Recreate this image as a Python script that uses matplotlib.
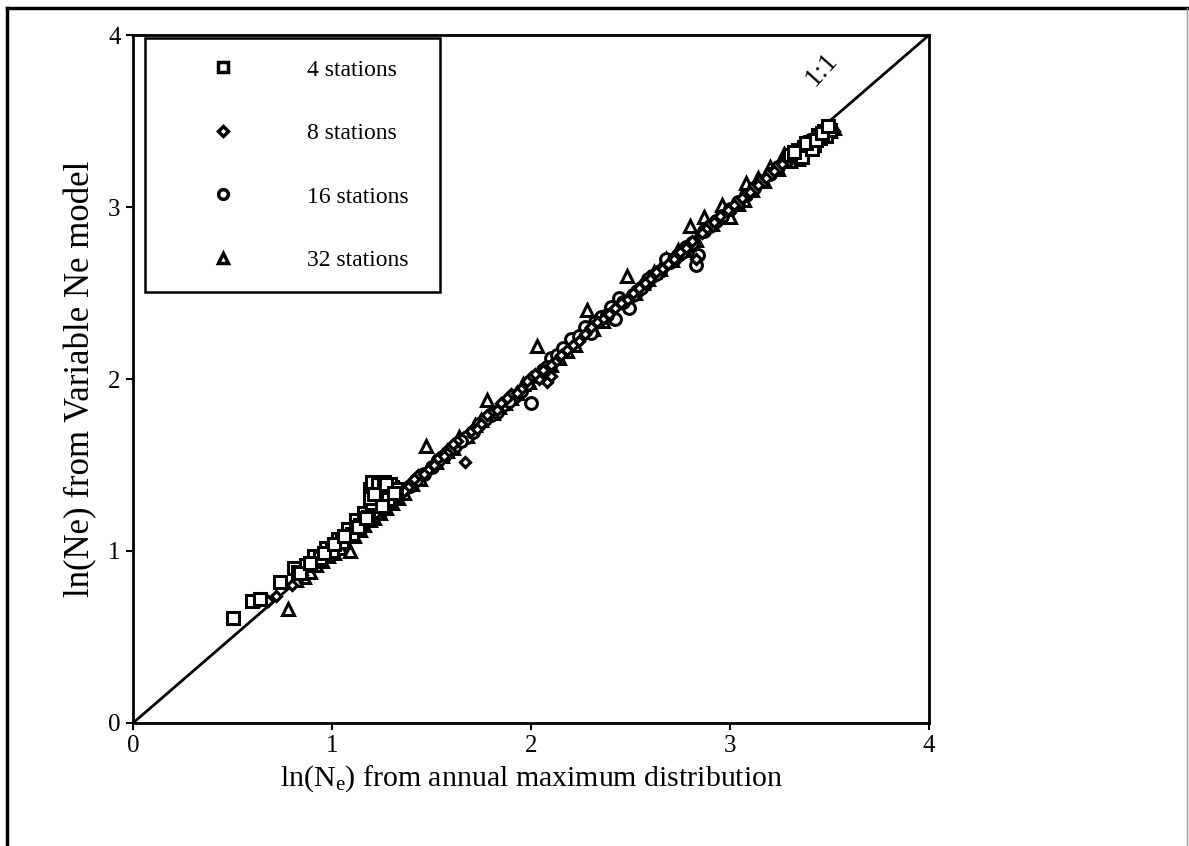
import numpy as np
import matplotlib
matplotlib.use("Agg")
import matplotlib.pyplot as plt
from matplotlib.lines import Line2D

plt.rcParams['font.family'] = ['Liberation Serif', 'DejaVu Serif']
plt.rcParams['mathtext.fontset'] = 'custom'
plt.rcParams['mathtext.rm'] = 'Liberation Serif'
plt.rcParams['mathtext.it'] = 'Liberation Serif:italic'

# ln(Ne): annual maximum distribution (x) vs variable Ne model (y)
sq_x = [0.50, 0.60, 0.64, 0.74, 0.81, 0.83, 0.87, 0.91, 0.94, 0.97, 1.00, 1.03,
        1.05, 1.08, 1.10, 1.12, 1.14, 1.16, 1.18, 1.19, 1.20, 1.21, 1.22, 1.23,
        1.24, 1.25, 1.26, 1.27, 1.28, 1.29, 1.30, 1.22, 1.24, 1.26, 1.28, 1.20,
        1.25, 0.84, 0.89, 0.96, 1.01, 1.06, 1.13, 1.17, 1.20, 1.23, 1.26, 1.29,
        1.32, 1.19, 1.21, 1.27, 1.31,
        3.30, 3.34, 3.37, 3.40, 3.42, 3.44, 3.45, 3.47, 3.48, 3.50, 3.36, 3.41,
        3.32, 3.38, 3.43, 3.46, 3.49]
sq_y = [0.61, 0.71, 0.72, 0.82, 0.90, 0.88, 0.92, 0.97, 0.96, 1.02, 1.00, 1.07,
        1.05, 1.13, 1.10, 1.18, 1.15, 1.22, 1.20, 1.36, 1.37, 1.35, 1.38, 1.36,
        1.34, 1.37, 1.35, 1.38, 1.36, 1.33, 1.37, 1.31, 1.29, 1.33, 1.30, 1.28,
        1.26, 0.87, 0.93, 0.99, 1.04, 1.09, 1.14, 1.19, 1.40, 1.39, 1.40, 1.39,
        1.36, 1.31, 1.33, 1.39, 1.34,
        3.30, 3.33, 3.35, 3.38, 3.36, 3.42, 3.40, 3.44, 3.41, 3.45, 3.29, 3.34,
        3.32, 3.37, 3.39, 3.43, 3.47]

dm_x = [0.68, 0.72, 0.85, 0.95, 1.05, 1.15, 1.22, 1.27, 1.33, 1.38, 1.43, 1.48,
        1.53, 1.58, 1.63, 1.67, 1.70, 1.75, 1.80, 1.85, 1.90, 1.95, 2.00, 2.04,
        2.08, 2.12, 2.18, 2.24, 2.30, 2.36, 2.42, 2.48, 2.54, 2.60, 2.66, 2.72,
        2.78, 2.83, 2.88, 2.95, 3.02, 3.10, 3.18, 3.26, 3.34, 3.42, 3.48, 3.52,
        0.80, 0.90, 1.00, 1.10, 1.19, 1.25, 1.30, 1.36, 1.41, 1.46, 1.51, 1.56,
        1.61, 1.73, 1.78, 1.83, 1.88, 1.93, 1.98, 2.02, 2.06, 2.10, 2.15, 2.21,
        2.27, 2.33, 2.39, 2.45, 2.51, 2.57, 2.63, 2.69, 2.75, 2.81, 2.86, 2.92,
        2.99, 3.06, 3.14, 3.22, 3.30, 3.38, 3.45, 2.08, 2.10]
dm_y = [0.71, 0.74, 0.86, 0.96, 1.05, 1.16, 1.22, 1.26, 1.31, 1.37, 1.44, 1.47,
        1.54, 1.57, 1.64, 1.52, 1.70, 1.74, 1.81, 1.86, 1.91, 1.94, 2.01, 2.00,
        2.04, 2.10, 2.17, 2.22, 2.30, 2.35, 2.41, 2.46, 2.53, 2.58, 2.64, 2.70,
        2.76, 2.70, 2.87, 2.95, 3.01, 3.09, 3.17, 3.25, 3.33, 3.40, 3.45, 3.44,
        0.80, 0.91, 0.99, 1.11, 1.19, 1.23, 1.32, 1.35, 1.42, 1.45, 1.50, 1.55,
        1.62, 1.71, 1.79, 1.82, 1.89, 1.92, 1.99, 2.03, 2.05, 2.08, 2.14, 2.20,
        2.26, 2.33, 2.38, 2.44, 2.50, 2.56, 2.62, 2.67, 2.74, 2.80, 2.85, 2.91,
        2.98, 3.05, 3.13, 3.21, 3.29, 3.37, 3.43, 1.98, 2.02]

ci_x = [0.62, 1.10, 1.20, 1.30, 1.36, 1.42, 1.50, 1.56, 1.62, 1.68, 1.74, 1.80,
        1.86, 1.92, 1.98, 2.00, 2.06, 2.10, 2.13, 2.20, 2.27, 2.35, 2.40, 2.42,
        2.44, 2.49, 2.53, 2.57, 2.61, 2.65, 2.70, 2.74, 2.78, 2.84, 2.83, 2.90,
        2.96, 3.04, 3.12, 3.20, 3.28, 3.36, 3.45, 3.50, 1.95, 2.16, 2.30, 2.55,
        2.68, 1.15, 1.25, 1.33, 1.39, 1.46, 1.53, 1.59, 1.65, 1.71, 1.77, 1.83,
        1.89, 2.03, 2.08, 2.24, 2.32, 2.38, 2.46, 2.51, 2.59, 2.63, 2.72, 2.76,
        2.81, 2.87, 2.93, 3.00, 3.08, 3.16, 3.24, 3.32, 3.40, 3.48]
ci_y = [0.71, 1.11, 1.19, 1.29, 1.36, 1.41, 1.49, 1.55, 1.61, 1.66, 1.74, 1.79,
        1.85, 1.90, 1.97, 1.86, 2.05, 2.12, 2.14, 2.23, 2.30, 2.36, 2.42, 2.35,
        2.47, 2.41, 2.51, 2.55, 2.60, 2.63, 2.68, 2.72, 2.77, 2.72, 2.66, 2.89,
        2.95, 3.03, 3.11, 3.19, 3.27, 3.35, 3.43, 3.46, 1.93, 2.18, 2.27, 2.53,
        2.70, 1.14, 1.24, 1.34, 1.38, 1.45, 1.53, 1.58, 1.64, 1.69, 1.77, 1.81,
        1.87, 2.02, 2.07, 2.25, 2.33, 2.37, 2.45, 2.49, 2.58, 2.61, 2.70, 2.74,
        2.79, 2.86, 2.92, 2.99, 3.07, 3.15, 3.23, 3.31, 3.39, 3.44]

tr_x = [0.78, 0.86, 0.92, 0.98, 1.04, 1.09, 1.14, 1.19, 1.24, 1.30, 1.36, 1.47,
        1.52, 1.58, 1.64, 1.72, 1.78, 1.84, 1.90, 1.96, 2.03, 2.10, 2.18, 2.28,
        2.36, 2.48, 2.56, 2.62, 2.68, 2.74, 2.80, 2.87, 2.96, 3.00, 3.07, 3.08,
        3.14, 3.20, 3.27, 3.34, 3.44, 3.52, 3.40, 0.82, 0.89, 0.95, 1.01, 1.06,
        1.11, 1.16, 1.21, 1.27, 1.33, 1.40, 1.44, 1.55, 1.61, 1.68, 1.75, 1.81,
        1.87, 1.93, 1.99, 2.06, 2.14, 2.22, 2.31, 2.40, 2.44, 2.52, 2.59, 2.65,
        2.71, 2.77, 2.83, 2.91, 3.04, 3.11, 3.17, 3.24, 3.30, 3.37, 3.47, 3.50]
tr_y = [0.66, 0.85, 0.92, 0.97, 1.02, 1.00, 1.12, 1.18, 1.22, 1.28, 1.34, 1.61,
        1.52, 1.58, 1.66, 1.73, 1.88, 1.84, 1.89, 1.97, 2.19, 2.08, 2.16, 2.40,
        2.34, 2.60, 2.56, 2.62, 2.70, 2.75, 2.89, 2.94, 3.01, 2.94, 3.04, 3.14,
        3.17, 3.23, 3.31, 3.28, 3.43, 3.46, 3.36, 0.83, 0.88, 0.94, 0.99, 1.05,
        1.09, 1.15, 1.19, 1.25, 1.31, 1.39, 1.42, 1.55, 1.60, 1.67, 1.76, 1.80,
        1.86, 1.92, 1.98, 2.05, 2.12, 2.20, 2.29, 2.38, 2.45, 2.50, 2.58, 2.64,
        2.69, 2.75, 2.81, 2.90, 3.02, 3.10, 3.15, 3.22, 3.27, 3.35, 3.41, 3.44]

labels = ['4 stations', '8 stations', '16 stations', '32 stations']
ticks = [0, 1, 2, 3, 4]

fig = plt.figure(figsize=(11.89, 8.46), dpi=100)
ax = fig.add_axes([0.1119, 0.1454, 0.6695, 0.8132])

# 1:1 reference line
ax.plot([0, 4], [0, 4], color='black', lw=2, zorder=1)

kw = dict(linestyle='none', mfc='white', mec='black', zorder=2)
ax.plot(tr_x, tr_y, marker='^', ms=9, mew=2.2, **kw)
ax.plot(ci_x, ci_y, marker='o', ms=8.5, mew=2.2, **kw)
ax.plot(dm_x, dm_y, marker='D', ms=5.5, mew=2.3, **kw)
ax.plot(sq_x, sq_y, marker='s', ms=8.5, mew=2.2, **kw)

ax.text(3.46, 3.80, '1:1', fontsize=20, rotation=48,
        ha='center', va='center')

ax.set_xlim(0, 4)
ax.set_ylim(0, 4)
ax.set_xticks(ticks)
ax.set_yticks(ticks)
ax.tick_params(direction='out', length=5, width=1.5, labelsize=18, pad=4)
for s in ax.spines.values():
    s.set_linewidth(2)

ax.set_xlabel('ln(N$_\\mathrm{e}$) from annual maximum distribution',
              fontsize=21.5, labelpad=4)
ax.set_ylabel('ln(Ne) from Variable Ne model', fontsize=25, labelpad=8)

handles = [
    Line2D([], [], linestyle='none', marker='s', ms=7, mew=2.5, mfc='white', mec='black'),
    Line2D([], [], linestyle='none', marker='D', ms=5.5, mew=2.5, mfc='white', mec='black'),
    Line2D([], [], linestyle='none', marker='o', ms=7, mew=2.5, mfc='white', mec='black'),
    Line2D([], [], linestyle='none', marker='^', ms=7.5, mew=2.5, mfc='white', mec='black'),
]
leg = ax.legend(handles, labels, loc='upper left', mode='expand',
                bbox_to_anchor=(0.015, 0.622, 0.371, 0.374), borderaxespad=0,
                fontsize=17, frameon=True, fancybox=False, edgecolor='black',
                borderpad=0.9, labelspacing=1.78, handlelength=4.8,
                handletextpad=1.15)
leg.get_frame().set_linewidth(1.8)
leg.get_frame().set_alpha(1)

# page frame
fig.add_artist(Line2D([0.0059, 0.0059], [0.0, 0.9905], color='black', lw=2.5))
fig.add_artist(Line2D([0.0059, 0.9983], [0.9905, 0.9905], color='black', lw=2.5))
fig.add_artist(Line2D([0.9983, 0.9983], [0.0, 0.9905], color='0.6', lw=1))

fig.savefig('out.png', dpi=100)
